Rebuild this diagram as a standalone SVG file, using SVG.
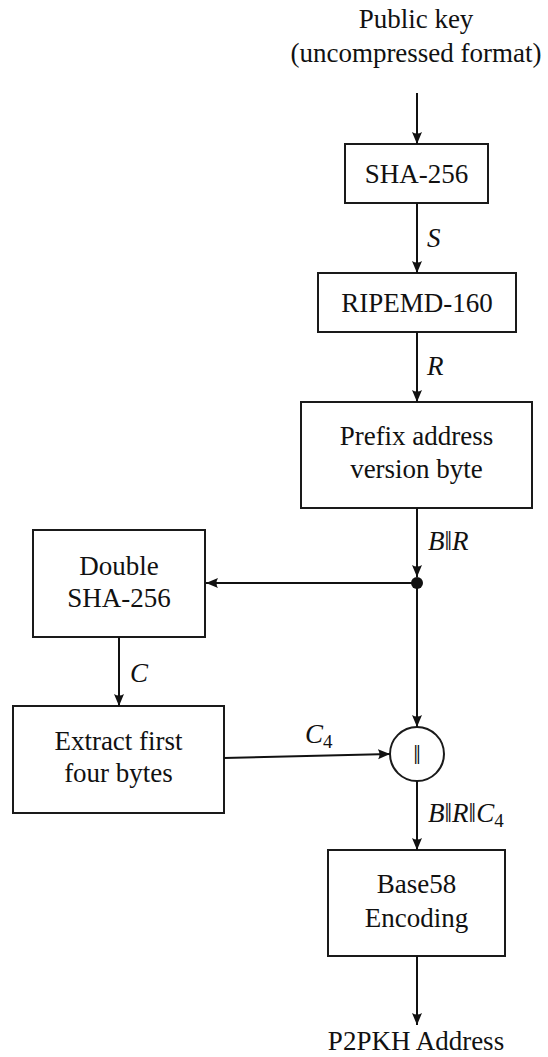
<svg xmlns="http://www.w3.org/2000/svg" width="548" height="1057" viewBox="0 0 548 1057" font-family="Liberation Serif, serif" font-size="27">
  <style>
    .box { fill: #fff; stroke: #1a1a1a; stroke-width: 2; }
    .wire { fill: none; stroke: #111; stroke-width: 2; }
  </style>
  <defs>
    <marker id="arrow" markerUnits="userSpaceOnUse" markerWidth="13" markerHeight="11" refX="12" refY="5" orient="auto">
      <path d="M0,0 Q3,5 0,10 L12,5 Z" fill="#111"/>
    </marker>
  </defs>

  <g id="input">
    <text font-family="Liberation Serif, serif" font-size="27" fill="#111" text-anchor="middle" x="416" y="28">Public key</text>
    <text font-family="Liberation Serif, serif" font-size="27" fill="#111" text-anchor="middle" x="416" y="62">(uncompressed format)</text>
  </g>
  <g id="output">
    <text font-family="Liberation Serif, serif" font-size="27" fill="#111" text-anchor="middle" x="416" y="1050">P2PKH Address</text>
  </g>

  <g id="sha256">
    <rect class="box" x="345" y="144" width="143" height="59"/>
    <text font-family="Liberation Serif, serif" font-size="27" fill="#111" text-anchor="middle" x="416.5" y="183">SHA-256</text>
  </g>
  <g id="ripemd160">
    <rect class="box" x="318" y="273" width="198" height="59"/>
    <text font-family="Liberation Serif, serif" font-size="27" fill="#111" text-anchor="middle" x="417" y="312">RIPEMD-160</text>
  </g>
  <g id="prefix">
    <rect class="box" x="301" y="402" width="231" height="106"/>
    <text font-family="Liberation Serif, serif" font-size="27" fill="#111" text-anchor="middle" x="416.5" y="445">Prefix address</text>
    <text font-family="Liberation Serif, serif" font-size="27" fill="#111" text-anchor="middle" x="416.5" y="478">version byte</text>
  </g>
  <g id="double-sha256">
    <rect class="box" x="33" y="530" width="172" height="107"/>
    <text font-family="Liberation Serif, serif" font-size="27" fill="#111" text-anchor="middle" x="119" y="575">Double</text>
    <text font-family="Liberation Serif, serif" font-size="27" fill="#111" text-anchor="middle" x="119" y="607">SHA-256</text>
  </g>
  <g id="extract">
    <rect class="box" x="13" y="706" width="211" height="107"/>
    <text font-family="Liberation Serif, serif" font-size="27" fill="#111" text-anchor="middle" x="118.5" y="750">Extract first</text>
    <text font-family="Liberation Serif, serif" font-size="27" fill="#111" text-anchor="middle" x="118.5" y="782">four bytes</text>
  </g>
  <g id="concat">
    <circle class="box" cx="417" cy="754" r="27"/>
    <text font-family="Liberation Serif, serif" font-size="27" fill="#111" text-anchor="middle" x="417" y="764">‖</text>
  </g>
  <g id="base58">
    <rect class="box" x="328" y="850" width="177" height="106"/>
    <text font-family="Liberation Serif, serif" font-size="27" fill="#111" text-anchor="middle" x="416.5" y="893">Base58</text>
    <text font-family="Liberation Serif, serif" font-size="27" fill="#111" text-anchor="middle" x="416.5" y="927">Encoding</text>
  </g>

  <!-- data-flow arrows, split dot and their labels -->
  <g id="connectors">
    <line class="wire" x1="417" y1="93" x2="417" y2="144" marker-end="url(#arrow)"/>
    <line class="wire" x1="417" y1="203" x2="417" y2="273" marker-end="url(#arrow)"/>
    <line class="wire" x1="417" y1="332" x2="417" y2="402" marker-end="url(#arrow)"/>
    <line class="wire" x1="417" y1="508" x2="417" y2="577" marker-end="url(#arrow)"/>
    <circle cx="417" cy="583" r="6" fill="#111"/>
    <line class="wire" x1="417" y1="583" x2="206" y2="583" marker-end="url(#arrow)"/>
    <line class="wire" x1="417" y1="583" x2="417" y2="727" marker-end="url(#arrow)"/>
    <line class="wire" x1="119" y1="637" x2="119" y2="706" marker-end="url(#arrow)"/>
    <line class="wire" x1="224" y1="758" x2="390" y2="754" marker-end="url(#arrow)"/>
    <line class="wire" x1="417" y1="781" x2="417" y2="850" marker-end="url(#arrow)"/>
    <line class="wire" x1="417" y1="956" x2="417" y2="1025" marker-end="url(#arrow)"/>

    <text font-family="Liberation Serif, serif" font-size="27" font-style="italic" fill="#111" x="427" y="247">S</text>
    <text font-family="Liberation Serif, serif" font-size="27" font-style="italic" fill="#111" x="427" y="375">R</text>
    <text font-family="Liberation Serif, serif" font-size="27" font-style="italic" fill="#111" x="428" y="550">B<tspan font-style="normal">‖</tspan>R</text>
    <text font-family="Liberation Serif, serif" font-size="27" font-style="italic" fill="#111" x="130" y="682">C</text>
    <text font-family="Liberation Serif, serif" font-size="27" font-style="italic" fill="#111" x="305" y="743">C<tspan font-style="normal" font-size="19" dy="5">4</tspan></text>
    <text font-family="Liberation Serif, serif" font-size="27" font-style="italic" fill="#111" x="428" y="822">B<tspan font-style="normal">‖</tspan>R<tspan font-style="normal">‖</tspan>C<tspan font-style="normal" font-size="19" dy="5">4</tspan></text>
  </g>
</svg>
